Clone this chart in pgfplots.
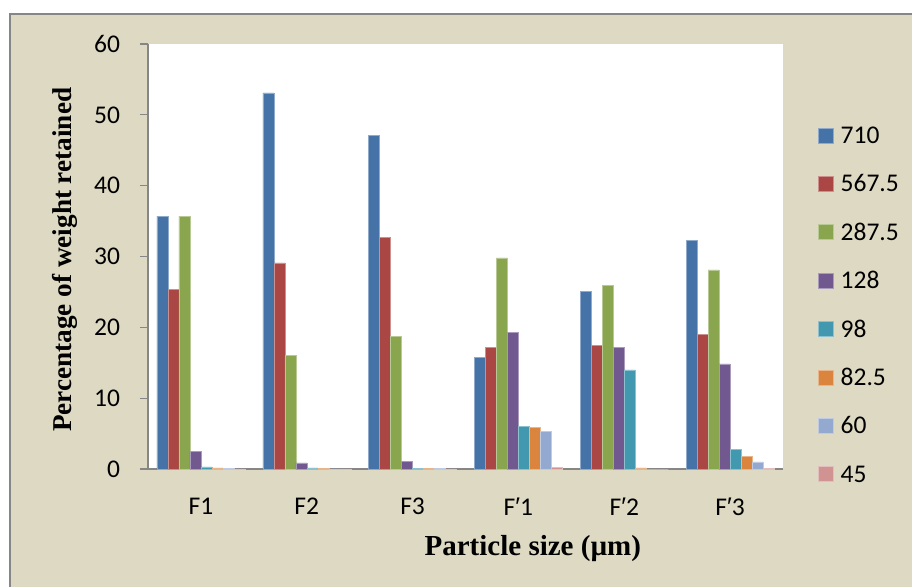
\documentclass[border=0pt]{standalone}
\usepackage{pgfplots}
\pgfplotsset{compat=1.18}
\usepackage{pgfplotstable}
\usepackage{fontspec}
\setmainfont{Carlito}
\newfontfamily\titlefont{Liberation Serif}
\newfontfamily\primefont{Liberation Sans}
\newcommand\pr{{\primefont ′}}

\definecolor{sA}{HTML}{4572A7}
\definecolor{sB}{HTML}{AA4643}
\definecolor{sC}{HTML}{89A54E}
\definecolor{sD}{HTML}{71588F}
\definecolor{sE}{HTML}{4198AF}
\definecolor{sF}{HTML}{DB843D}
\definecolor{sG}{HTML}{93A9CF}
\definecolor{sH}{HTML}{D19392}
\definecolor{frameBg}{HTML}{DDD9C3}
\definecolor{axGray}{HTML}{868686}

% Percentage of weight retained on each sieve (µm) for every formulation
\pgfplotstableread{
idx v710 v5675 v2875 v128 v98  v825 v60  v45
0   35.7 25.4  35.7  2.5  0.3  0.15 0.1  0.03
1   53.1 29.1  16.0  0.85 0.15 0.05 0.03 0.01
2   47.1 32.7  18.7  1.1  0.1  0.1  0.08 0.02
3   15.8 17.2  29.8  19.3 6.0  5.9  5.3  0.25
4   25.1 17.5  25.9  17.2 14.0 0.15 0.0  0.0
5   32.3 19.0  28.1  14.85 2.8 1.8  1.0  0.05
}\sizedist

\begin{document}
\begin{tikzpicture}[x=1pt,y=1pt]
\fill[white] (0,0) rectangle (912,-586);
\filldraw[fill=frameBg, draw=axGray, line width=1.2pt] (10,-14) rectangle (916,-590);
\begin{axis}[
  at={(148pt,-469pt)}, anchor=south west,
  width=635pt, height=425pt, scale only axis,
  xmin=-0.5, xmax=5.5, ymin=0, ymax=60,
  ybar=0pt, bar width=11pt,
  axis lines*=left,
  axis line style={draw=axGray, line width=1.2pt},
  axis background/.style={fill=white},
  xtick={0,...,5},
  xticklabels={F1,F2,F3,F\pr1,F\pr2,F\pr3},
  minor xtick={-0.5,0.5,...,5.5},
  xtick style={draw=none},
  minor tick style={draw=axGray, line width=1.2pt},
  minor tick length=8pt,
  ytick={0,10,...,60},
  ytick style={draw=axGray, line width=1.2pt},
  major tick length=8pt,
  tick align=outside,
  /pgf/number format/assume math mode=true,
  ticklabel style={font=\fontsize{25.5}{28}\selectfont, text=black},
  xticklabel style={yshift=-17.5pt},
  yticklabel style={xshift=-16.5pt},
  xlabel={\titlefont\bfseries Particle size (µm)},
  xlabel style={at={(axis description cs:0.606,-0.186)}, anchor=center,
    font=\fontsize{29}{31}\selectfont},
  ylabel={\titlefont\bfseries Percentage of weight retained},
  ylabel style={at={(axis description cs:-0.1307,0.492)}, anchor=center,
    font=\fontsize{27.2}{30}\selectfont},
  legend image code/.code={\fill[#1] (0pt,-7.5pt) rectangle (15pt,7.5pt);},
  legend cell align=left,
  legend style={draw=none, fill=none,
    at={(axis description cs:1.0551,0.8042)}, anchor=north west,
    inner sep=0pt, row sep=32.4pt,
    font=\fontsize{25.5}{28}\selectfont,
    nodes={inner sep=0pt, text height=16pt, text depth=0pt},
    /tikz/every odd column/.append style={column sep=7pt}},
]
\addplot[fill=sA, draw=sA!60!white, line width=0.5pt] table[x=idx,y=v710]{\sizedist};
\addplot[fill=sB, draw=sB!60!white, line width=0.5pt] table[x=idx,y=v5675]{\sizedist};
\addplot[fill=sC, draw=sC!60!white, line width=0.5pt] table[x=idx,y=v2875]{\sizedist};
\addplot[fill=sD, draw=sD!60!white, line width=0.5pt] table[x=idx,y=v128]{\sizedist};
\addplot[fill=sE, draw=sE!60!white, line width=0.5pt] table[x=idx,y=v98]{\sizedist};
\addplot[fill=sF, draw=sF!60!white, line width=0.5pt] table[x=idx,y=v825]{\sizedist};
\addplot[fill=sG, draw=sG!60!white, line width=0.5pt] table[x=idx,y=v60]{\sizedist};
\addplot[fill=sH, draw=sH!60!white, line width=0.5pt] table[x=idx,y=v45]{\sizedist};
\legend{710,567.5,287.5,128,98,82.5,60,45}
\end{axis}
\pgfresetboundingbox
\path (0,0) rectangle (912,-586);
\end{tikzpicture}
\end{document}
